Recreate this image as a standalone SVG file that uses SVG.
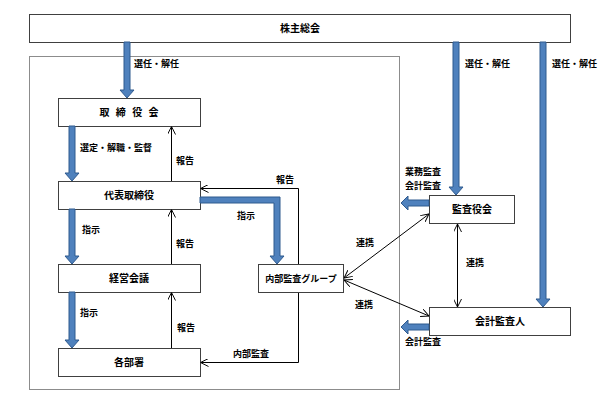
<svg xmlns="http://www.w3.org/2000/svg" width="600" height="404" viewBox="0 0 600 404">
<defs>
<style>
.box{fill:#fff;stroke:#404040;stroke-width:1}
.frame{fill:none;stroke:#8c8c8c;stroke-width:1}
.t{font-family:"Noto Sans CJK JP","Noto Sans CJK SC",sans-serif;font-size:9px;font-weight:bold;fill:#000}
.b{font-size:10px}
.m{text-anchor:middle}
.thick{fill:#4f81bd;stroke:#2f5a8e;stroke-width:1}
.thin{fill:none;stroke:#000;stroke-width:1}
</style>
<marker id="oa" viewBox="0 0 10 10" refX="10" refY="5" markerWidth="8" markerHeight="8" orient="auto-start-reverse" markerUnits="userSpaceOnUse">
<path d="M0,0 L10,5 L0,10" fill="none" stroke="#000" stroke-width="1.2"/>
</marker>
</defs>
<rect class="frame" x="29.5" y="56.5" width="370" height="333"/>
<g id="shareholders"><rect class="box" x="29.5" y="14.5" width="541" height="28"/><text class="t b m" x="300" y="32">株主総会</text></g>
<g id="board"><rect class="box" x="58.5" y="98.5" width="142" height="28"/><text class="t b m" x="130" y="116" letter-spacing="2">取 締 役 会</text></g>
<g id="rep"><rect class="box" x="58.5" y="181.5" width="142" height="28"/><text class="t b m" x="129" y="199">代表取締役</text></g>
<g id="mgmt"><rect class="box" x="58.5" y="264.5" width="142" height="28"/><text class="t b m" x="129" y="282">経営会議</text></g>
<g id="depts"><rect class="box" x="58.5" y="348.5" width="142" height="28"/><text class="t b m" x="129" y="366">各部署</text></g>
<g id="internal"><rect class="box" x="258.5" y="264.5" width="85" height="28"/><text class="t m" x="301" y="282">内部監査グループ</text></g>
<g id="auditors"><rect class="box" x="429.5" y="195.5" width="85" height="28"/><text class="t b m" x="472" y="213">監査役会</text></g>
<g id="accountant"><rect class="box" x="429.5" y="307.5" width="141" height="28"/><text class="t b m" x="500" y="325">会計監査人</text></g>
<g id="connectors">
<polygon class="thick" points="124,42 130,42 130,90 134,90 127,98 120,90 124,90"/>
<polygon class="thick" points="69,126 75,126 75,173 79,173 72,181 65,173 69,173"/>
<polygon class="thick" points="69,209 75,209 75,256 79,256 72,264 65,256 69,256"/>
<polygon class="thick" points="69,292 75,292 75,340 79,340 72,348 65,340 69,340"/>
<polygon class="thick" points="453,42 459,42 459,187 463,187 456,195 449,187 453,187"/>
<polygon class="thick" points="540,42 546,42 546,299 550,299 543,307 536,299 540,299"/>
<polygon class="thick" points="200,197 280,197 280,256 284,256 277,264 270,256 274,256 274,203 200,203"/>
<polygon class="thick" points="429,200 429,206 408,206 408,210 401,203 408,196 408,200"/>
<polygon class="thick" points="429,324 429,330 408,330 408,334 401,327 408,320 408,324"/>
<line class="thin" x1="171.5" y1="181" x2="171.5" y2="126.5" marker-end="url(#oa)"/>
<line class="thin" x1="171.5" y1="264" x2="171.5" y2="209.5" marker-end="url(#oa)"/>
<line class="thin" x1="171.5" y1="348" x2="171.5" y2="292.5" marker-end="url(#oa)"/>
<polyline class="thin" points="298.5,264 298.5,188.5 200.5,188.5" marker-end="url(#oa)"/>
<polyline class="thin" points="298.5,293 298.5,362.5 200.5,362.5" marker-end="url(#oa)"/>
<line class="thin" x1="344" y1="278" x2="429" y2="214" marker-start="url(#oa)" marker-end="url(#oa)"/>
<line class="thin" x1="344" y1="280" x2="429" y2="316" marker-start="url(#oa)" marker-end="url(#oa)"/>
<line class="thin" x1="457.5" y1="224" x2="457.5" y2="307" marker-start="url(#oa)" marker-end="url(#oa)"/>
</g>
<g id="labels">
<text class="t" x="134" y="67">選任・解任</text>
<text class="t" x="465" y="67">選任・解任</text>
<text class="t" x="552" y="67">選任・解任</text>
<text class="t" x="80" y="151">選定・解職・監督</text>
<text class="t" x="176" y="164">報告</text>
<text class="t" x="176" y="247">報告</text>
<text class="t" x="177" y="331">報告</text>
<text class="t" x="82" y="233">指示</text>
<text class="t" x="80" y="316">指示</text>
<text class="t" x="237" y="219">指示</text>
<text class="t" x="276" y="183">報告</text>
<text class="t" x="233" y="357">内部監査</text>
<text class="t" x="356" y="246">連携</text>
<text class="t" x="355" y="308">連携</text>
<text class="t" x="466" y="266">連携</text>
<text class="t" x="405" y="175">業務監査</text>
<text class="t" x="405" y="189">会計監査</text>
<text class="t" x="405" y="345">会計監査</text>
</g>
</svg>
